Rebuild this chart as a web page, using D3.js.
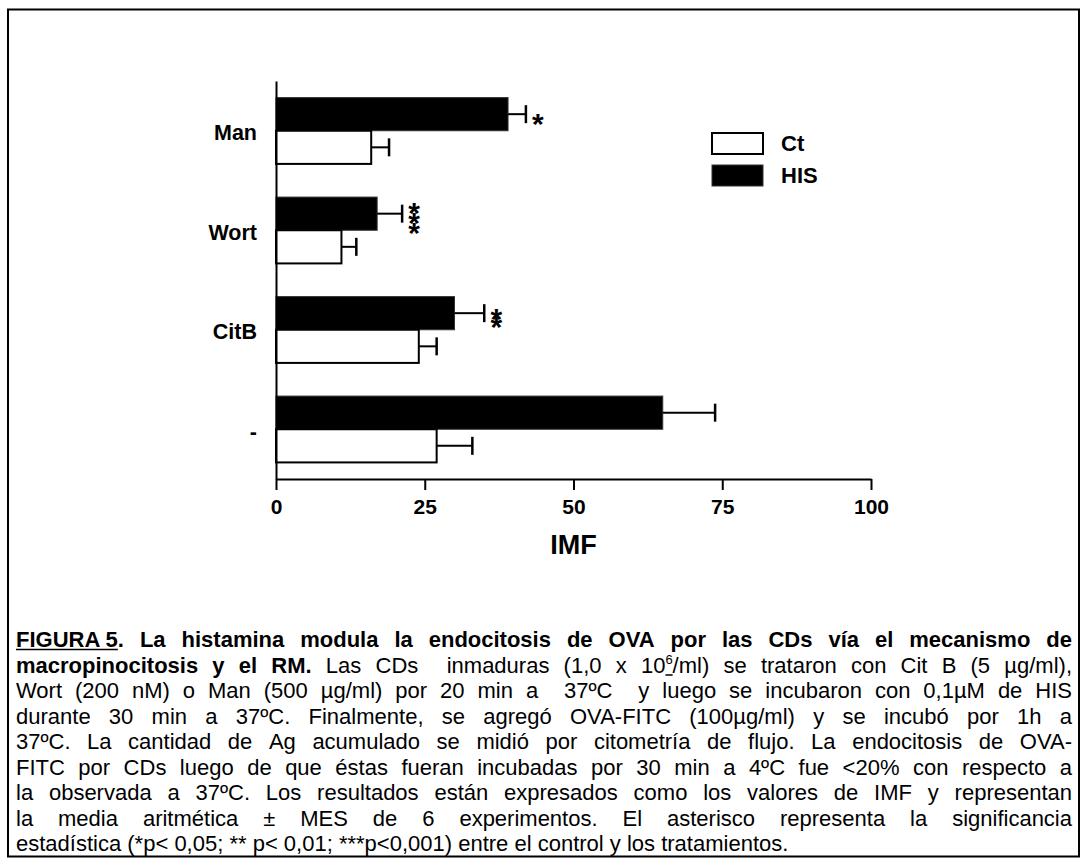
<!DOCTYPE html>
<html>
<head>
<meta charset="utf-8">
<script src="https://cdn.jsdelivr.net/npm/d3@7"></script>
<style>
  html, body { margin: 0; padding: 0; background: #fff; }
  svg { display: block; }
  text { font-family: "Liberation Sans", Arial, Helvetica, sans-serif; fill: #000; }
</style>
</head>
<body>
<svg id="chart" width="1088" height="864"></svg>
<script>
// ---------------- data ----------------
const categories = ["Man", "Wort", "CitB", "-"];
const seriesNames = ["Ct", "HIS"];
const ctValues = [16, 11, 24, 27];
const ctErrors = [3, 2.5, 3, 6];
const hisValues = [39, 17, 30, 65];
const hisErrors = [3, 4.2, 5, 8.8];
const significance = ["*", "***", "**", ""];
const xTicks = [0, 25, 50, 75, 100];
const xDomain = [0, 100];
const xLabel = "IMF";

const captionLines = [
  [["FIGURA 5", "bu"], [". La histamina modula la endocitosis de OVA por las CDs vía el mecanismo de", "b"]],
  [["macropinocitosis y el RM.", "b"], [" Las CDs  inmaduras (1,0 x 10", ""], ["6", "sup"], ["/ml) se trataron con Cit B (5 µg/ml),", ""]],
  [["Wort (200 nM) o Man (500 µg/ml) por 20 min a  37ºC  y luego se incubaron con 0,1µM de HIS", ""]],
  [["durante 30 min a 37ºC. Finalmente, se agregó OVA-FITC (100µg/ml) y se incubó por 1h a", ""]],
  [["37ºC. La cantidad de Ag acumulado se midió por citometría de flujo. La endocitosis de OVA-", ""]],
  [["FITC por CDs luego de que éstas fueran incubadas por 30 min a 4ºC fue <20% con respecto a", ""]],
  [["la observada a 37ºC. Los resultados están expresados como los valores de IMF y representan", ""]],
  [["la media aritmética ± MES de 6 experimentos. El asterisco representa la significancia", ""]],
  [["estadística (*p< 0,05; ** p< 0,01; ***p<0,001) entre el control y los tratamientos.", ""]]
];

// ---------------- layout ----------------
const svg = d3.select("#chart");

// frame
svg.append("rect")
  .attr("x", 8).attr("y", 9.5).attr("width", 1071).attr("height", 847)
  .attr("fill", "none").attr("stroke", "#000").attr("stroke-width", 2);

const plot = { left: 276, right: 871, top: 81, bottom: 479 };

const x = d3.scaleLinear().domain(xDomain).range([plot.left, plot.right]);
const y = d3.scaleBand().domain(categories).range([plot.top, plot.bottom])
  .paddingInner(1 / 3).paddingOuter(1 / 6);
const sub = d3.scaleBand().domain(["HIS", "Ct"]).range([0, y.bandwidth()]);

const rows = categories.map((c, i) => ({
  cat: c,
  Ct: { v: ctValues[i], e: ctErrors[i] },
  HIS: { v: hisValues[i], e: hisErrors[i] },
  sig: significance[i]
}));

const g = svg.append("g");

// bars
const barData = [];
rows.forEach(r => {
  ["HIS", "Ct"].forEach(s => barData.push({ cat: r.cat, s, v: r[s].v, e: r[s].e }));
});

g.selectAll("rect.bar").data(barData).enter().append("rect")
  .attr("class", "bar")
  .attr("x", x(0))
  .attr("y", d => y(d.cat) + sub(d.s))
  .attr("width", d => x(d.v) - x(0))
  .attr("height", sub.bandwidth())
  .attr("fill", d => d.s === "HIS" ? "#000" : "#fff")
  .attr("stroke", d => d.s === "HIS" ? "#333" : "#000")
  .attr("stroke-width", d => d.s === "HIS" ? 1 : 2);

// error bars
g.selectAll("line.err").data(barData).enter().append("line")
  .attr("class", "err")
  .attr("x1", d => x(d.v)).attr("x2", d => x(d.v + d.e))
  .attr("y1", d => y(d.cat) + sub(d.s) + sub.bandwidth() / 2)
  .attr("y2", d => y(d.cat) + sub(d.s) + sub.bandwidth() / 2)
  .attr("stroke", "#000").attr("stroke-width", 2);

g.selectAll("line.cap").data(barData).enter().append("line")
  .attr("class", "cap")
  .attr("x1", d => x(d.v + d.e)).attr("x2", d => x(d.v + d.e))
  .attr("y1", d => y(d.cat) + sub(d.s) + sub.bandwidth() / 2 - 9)
  .attr("y2", d => y(d.cat) + sub(d.s) + sub.bandwidth() / 2 + 9)
  .attr("stroke", "#000").attr("stroke-width", 2.5);

// significance stars: one text element per bar, stacked tspans
rows.forEach(r => {
  const n = r.sig.length;
  if (!n) return;
  const cx = x(r.HIS.v + r.HIS.e) + 12;
  const cy = y(r.cat) + sub("HIS") + sub.bandwidth() / 2 + 2.5;
  const step = n >= 3 ? 10 : 8;
  const t = g.append("text")
    .attr("text-anchor", "middle")
    .attr("font-size", 30).attr("font-weight", "bold");
  for (let k = 0; k < n; k++) {
    const sy = cy + (k - (n - 1) / 2) * step;
    t.append("tspan").attr("x", cx).attr("y", sy + 17).text("*");
  }
});

// axes
const xAxis = d3.axisBottom(x).tickValues(xTicks).tickSize(11).tickSizeOuter(0).tickPadding(9);
const gx = svg.append("g").attr("transform", `translate(0,${plot.bottom})`).call(xAxis);
gx.select(".domain").attr("stroke-width", 2);
gx.selectAll(".tick line").attr("stroke-width", 2);
gx.selectAll(".tick text").attr("font-size", 21).attr("font-weight", "bold")
  .attr("font-family", '"Liberation Sans", Arial, sans-serif').attr("fill", "#000");

const yAxis = d3.axisLeft(y).tickSize(0).tickSizeOuter(0).tickPadding(19);
const gy = svg.append("g").attr("transform", `translate(${plot.left},0)`).call(yAxis);
gy.select(".domain").attr("stroke-width", 2);
gy.selectAll(".tick text").attr("font-size", 21.5).attr("font-weight", "bold")
  .attr("font-family", '"Liberation Sans", Arial, sans-serif').attr("fill", "#000")
  .attr("dy", "0.45em");

// x label
svg.append("text")
  .attr("x", (plot.left + plot.right) / 2).attr("y", 554)
  .attr("text-anchor", "middle").attr("font-size", 27).attr("font-weight", "bold")
  .text(xLabel);

// legend
const legend = svg.append("g").attr("transform", "translate(712,133)");
const legendFill = { Ct: "#fff", HIS: "#000" };
seriesNames.forEach((s, i) => {
  const lg = legend.append("g").attr("transform", `translate(0,${i * 32})`);
  lg.append("rect").attr("x", 0).attr("y", 0).attr("width", 51).attr("height", 21)
    .attr("fill", legendFill[s]).attr("stroke", s === "HIS" ? "#333" : "#000")
    .attr("stroke-width", s === "HIS" ? 1 : 2);
  lg.append("text").attr("x", 69).attr("y", 18).attr("font-size", 22)
    .attr("font-weight", "bold").text(s);
});

// caption (justified)
const capLeft = 16, capRight = 1072, capTop = 647, capLead = 25.5, capSize = 22;
const cap = svg.append("g");

function measureSpace() {
  const t = cap.append("text").attr("font-size", capSize);
  t.text("a a");
  const w1 = t.node().getComputedTextLength();
  t.text("aa");
  const w2 = t.node().getComputedTextLength();
  t.remove();
  return w1 - w2;
}
const spaceW = measureSpace();

captionLines.forEach((runs, li) => {
  const yy = capTop + li * capLead;
  const justify = li < captionLines.length - 1;
  const lineG = cap.append("g");
  const words = [];
  let cur = null, gap = 0;
  const pushPiece = (text, st) => {
    if (!cur) { cur = { pieces: [], gap }; gap = 0; }
    cur.pieces.push({ text, st });
  };
  const breakWord = () => { if (cur) { words.push(cur); cur = null; } gap += 1; };
  runs.forEach(([txt, st]) => {
    const parts = st.includes("u") ? [txt] : txt.split(" ");
    parts.forEach((p, i) => { if (i > 0) breakWord(); if (p.length) pushPiece(p, st); });
  });
  if (cur) words.push(cur);

  words.forEach(w => {
    const t = lineG.append("text").attr("y", yy).attr("font-size", capSize);
    let shifted = false;
    w.pieces.forEach(pc => {
      const ts = t.append("tspan").text(pc.text);
      if (pc.st.includes("b")) ts.attr("font-weight", "bold");
      if (pc.st.includes("sup")) { ts.attr("font-size", 13).attr("dy", -9); shifted = true; }
      else if (shifted) { ts.attr("dy", 9); shifted = false; }
      pc.node = ts.node();
    });
    w.node = t;
    w.width = t.node().getComputedTextLength();
  });
  const avail = capRight - capLeft;
  const total = d3.sum(words, w => w.width);
  const G = d3.sum(words.slice(1), w => w.gap);
  let unit = justify && G > 0 ? (avail - total) / G : spaceW;
  let squeeze = 1;
  const minUnit = spaceW * 0.7;
  if (unit < minUnit) {
    unit = minUnit;
    squeeze = avail / (total + G * unit);
  }
  let xx = capLeft;
  words.forEach((w, i) => {
    if (i > 0) xx += w.gap * unit;
    w.node.attr("x", xx);
    let px = xx;
    w.pieces.forEach(pc => {
      const pw = pc.node.getComputedTextLength();
      if (pc.st.includes("u")) {
        lineG.append("line").attr("x1", px).attr("x2", px + pw)
          .attr("y1", yy + 2.5).attr("y2", yy + 2.5)
          .attr("stroke", "#000").attr("stroke-width", 1.5);
      }
      px += pw;
    });
    xx += w.width;
  });
  if (squeeze < 1) {
    lineG.attr("transform", `translate(${capLeft},0) scale(${squeeze},1) translate(${-capLeft},0)`);
  }
});
</script>
</body>
</html>
